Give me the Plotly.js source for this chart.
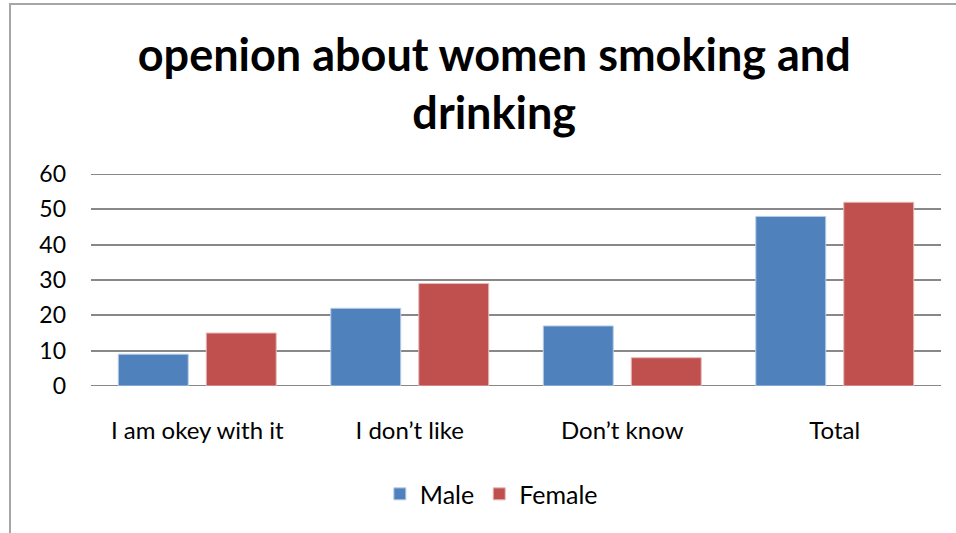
<!DOCTYPE html>
<html>
<head>
<meta charset="utf-8">
<script src="https://cdn.plot.ly/plotly-3.0.1.min.js"></script>
<style>
  body { margin: 0; background: #fff; overflow: hidden; }
  #wrap { position: relative; width: 956px; height: 533px; }
  #chart { width: 956px; height: 533px; }
  #frame { position: absolute; left: 9px; top: 3px; width: 1000px; height: 600px;
           border-left: 2px solid #a6a6a6; border-top: 2px solid #a6a6a6; pointer-events: none; }
</style>
</head>
<body>
<div id="wrap">
  <div id="chart"></div>
  <div id="frame"></div>
</div>
<script>
const categories = ["I am okey with it", "I don\u2019t like", "Don\u2019t know", "Total"];
const maleValues = [9, 22, 17, 48];
const femaleValues = [15, 29, 8, 52];
const yTicks = [0, 10, 20, 30, 40, 50, 60];

const font = "Lato, 'Open Sans', sans-serif";
const gridColor = "#888888";

const traces = [
  { type: "bar", name: "Male", x: categories, y: maleValues,
    marker: { color: "#4f81bd", line: { color: "#b9cde5", width: 1 } } },
  { type: "bar", name: "Female", x: categories, y: femaleValues,
    marker: { color: "#c0504d", line: { color: "#e6b9b8", width: 1 } } }
];

// Plotly drops grid lines that sit on the plot edges, so the first and last
// ticks get their own lines.
const edgeTicks = [yTicks[0], yTicks[yTicks.length - 1]];
const edgeLines = edgeTicks.map(v => ({
  type: "line", xref: "paper", yref: "y", x0: 0, x1: 1, y0: v, y1: v,
  layer: "below", line: { color: gridColor, width: 2 }
}));

const layout = {
  width: 956, height: 533,
  paper_bgcolor: "#fff", plot_bgcolor: "#fff",
  margin: { l: 91, r: 15, t: 174, b: 147 },
  font: { family: font, color: "#000", size: 22 },
  title: {
    text: "<b>openion about women smoking and<br>drinking</b>",
    font: { family: font, size: 45, color: "#000" },
    x: 0.517, xanchor: "center", y: 0.867, yanchor: "middle"
  },
  bargap: 0.172, bargroupgap: 0.205,
  showlegend: true,
  legend: { orientation: "h", x: 0.471, xanchor: "center", y: -0.51, yanchor: "middle",
            font: { size: 25 }, itemwidth: 30 },
  shapes: edgeLines,
  xaxis: { type: "category", showgrid: false, zeroline: false, showline: false,
           ticks: "", ticklabelstandoff: 28, tickfont: { size: 24 } },
  yaxis: { range: [0, 60], tickvals: yTicks, ticktext: yTicks.map(String),
           showgrid: true, gridcolor: gridColor, gridwidth: 2,
           zeroline: false, showline: false, ticks: "", ticklabelstandoff: 24,
           tickfont: { size: 23 } }
};

Plotly.newPlot("chart", traces, layout, { displayModeBar: false, staticPlot: true });
</script>
</body>
</html>
